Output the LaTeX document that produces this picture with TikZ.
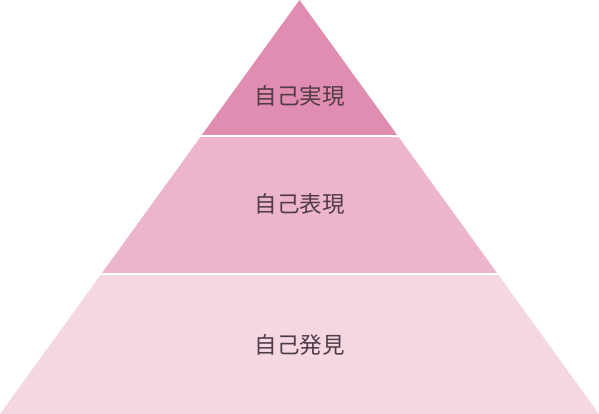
\documentclass[tikz,border=0pt]{standalone}
\usepackage{fontspec}
\newfontfamily\jpfont{Noto Sans CJK JP}
\usetikzlibrary{positioning}

\definecolor{tiertop}{RGB}{225,140,177}
\definecolor{tiermid}{RGB}{236,181,205}
\definecolor{tierlow}{RGB}{244,215,227}
\definecolor{tiertext}{RGB}{80,60,70}

\begin{document}
\begin{tikzpicture}[x=1pt, y=1pt,
  tier label/.style={font=\jpfont\fontsize{22.5}{26}\selectfont, text=tiertext, inner sep=0pt}]

\useasboundingbox (-299.5,0) rectangle (299.5,414);

\coordinate (base-left) at (-299.5,0);
\coordinate (base-right) at (299.5,0);
\coordinate (apex) at (0,414);

\foreach \lo/\hi/\c in {0/138/tierlow, 141/276/tiermid, 279/414/tiertop}
{
  \begin{scope}
    \clip (-300,\lo) rectangle (300,\hi);
    \fill [\c] (base-left) -- (apex) -- (base-right) -- cycle;
  \end{scope}
}

\foreach \l/\y [count=\i] in {自己発見/69, 自己表現/210, 自己実現/318}
  \node [tier label] (tier-\i) at (0,\y) {\l};

\end{tikzpicture}
\end{document}
